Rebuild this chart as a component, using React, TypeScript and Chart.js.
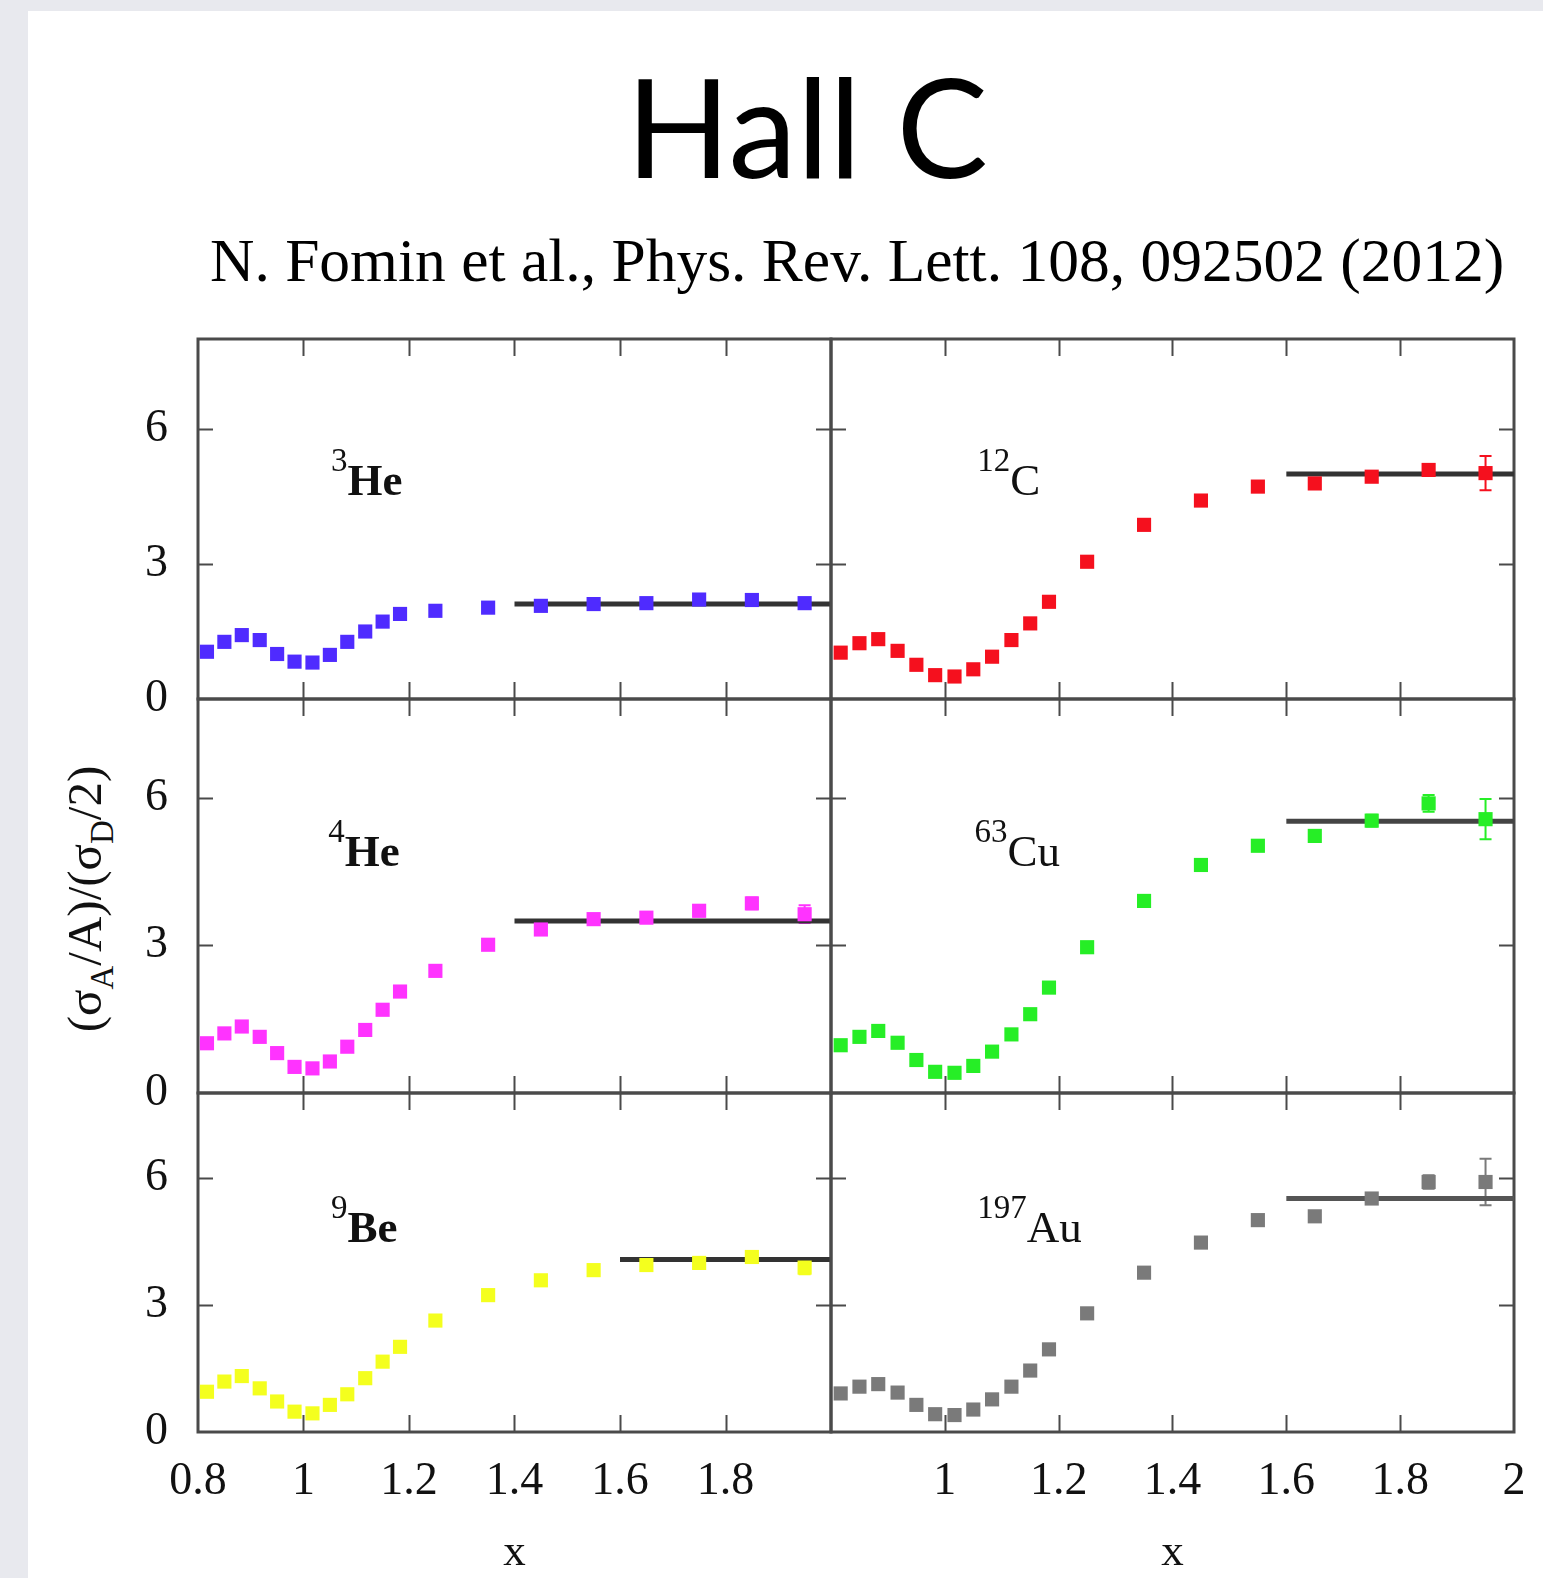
import React, { useEffect, useRef } from 'react';
import { Chart, registerables } from 'chart.js';

Chart.register(...registerables);

// ---------- data ----------
const X_VALUES = [0.817, 0.85, 0.883, 0.917, 0.95, 0.983, 1.017, 1.05, 1.083, 1.117, 1.15, 1.183, 1.25, 1.35, 1.45, 1.55, 1.65, 1.75, 1.85, 1.95];

const HE3_RATIO = [1.05, 1.27, 1.42, 1.31, 1.0, 0.83, 0.81, 0.98, 1.27, 1.5, 1.72, 1.89, 1.96, 2.03, 2.07, 2.11, 2.13, 2.21, 2.2, 2.13];
const C12_RATIO = [1.03, 1.24, 1.33, 1.07, 0.76, 0.53, 0.5, 0.66, 0.94, 1.31, 1.68, 2.16, 3.05, 3.87, 4.41, 4.72, 4.79, 4.94, 5.09, 5.02];
const HE4_RATIO = [1.01, 1.21, 1.35, 1.14, 0.81, 0.53, 0.5, 0.64, 0.94, 1.28, 1.69, 2.06, 2.48, 3.01, 3.32, 3.53, 3.56, 3.7, 3.85, 3.63];
const CU63_RATIO = [0.97, 1.14, 1.26, 1.02, 0.67, 0.43, 0.41, 0.55, 0.84, 1.19, 1.6, 2.14, 2.96, 3.9, 4.63, 5.02, 5.22, 5.53, 5.88, 5.56];
const BE9_RATIO = [0.95, 1.19, 1.32, 1.03, 0.72, 0.48, 0.44, 0.64, 0.89, 1.27, 1.66, 2.01, 2.63, 3.23, 3.58, 3.82, 3.94, 3.99, 4.13, 3.88];
const AU197_RATIO = [0.91, 1.07, 1.13, 0.93, 0.64, 0.42, 0.4, 0.53, 0.77, 1.07, 1.45, 1.95, 2.8, 3.76, 4.47, 5.0, 5.09, 5.51, 5.9, 5.9];

const HE3_ERR = [0.03, 0.03, 0.03, 0.03, 0.03, 0.03, 0.03, 0.03, 0.03, 0.03, 0.03, 0.03, 0.04, 0.04, 0.05, 0.05, 0.06, 0.06, 0.07, 0.08];
const C12_ERR = [0.03, 0.03, 0.03, 0.03, 0.03, 0.03, 0.03, 0.03, 0.03, 0.03, 0.04, 0.05, 0.06, 0.07, 0.08, 0.09, 0.1, 0.11, 0.13, 0.38];
const HE4_ERR = [0.03, 0.03, 0.03, 0.03, 0.03, 0.03, 0.03, 0.03, 0.03, 0.03, 0.04, 0.05, 0.06, 0.07, 0.08, 0.09, 0.1, 0.11, 0.12, 0.18];
const CU63_ERR = [0.03, 0.03, 0.03, 0.03, 0.03, 0.03, 0.03, 0.03, 0.03, 0.03, 0.04, 0.05, 0.06, 0.07, 0.08, 0.09, 0.1, 0.12, 0.17, 0.41];
const BE9_ERR = [0.03, 0.03, 0.03, 0.03, 0.03, 0.03, 0.03, 0.03, 0.03, 0.03, 0.04, 0.05, 0.06, 0.07, 0.08, 0.09, 0.1, 0.11, 0.12, 0.16];
const AU197_ERR = [0.03, 0.03, 0.03, 0.03, 0.03, 0.03, 0.03, 0.03, 0.03, 0.03, 0.04, 0.05, 0.06, 0.07, 0.08, 0.09, 0.1, 0.12, 0.16, 0.55];

// plateau fits a2: level and x-range
const FIT_LEVELS = [2.11, 5.0, 3.49, 5.52, 4.07, 5.51];
const FIT_START = [1.4, 1.6, 1.4, 1.6, 1.6, 1.6];
const FIT_END = 2.0;

const NUCLEUS_MASS = ['3', '12', '4', '63', '9', '197'];
const NUCLEUS_NAME = ['He', 'C', 'He', 'Cu', 'Be', 'Au'];

const X_TICKS = [0.8, 1, 1.2, 1.4, 1.6, 1.8, 2];
const Y_TICKS = [0, 3, 6];
const X_MIN = 0.8, X_MAX = 2.0, Y_MIN = 0, Y_MAX = 8;

const SERIES = [HE3_RATIO, C12_RATIO, HE4_RATIO, CU63_RATIO, BE9_RATIO, AU197_RATIO];
const ERRORS = [HE3_ERR, C12_ERR, HE4_ERR, CU63_ERR, BE9_ERR, AU197_ERR];

// ---------- layout / style ----------
const COLORS = ['#4f2bff', '#f5101e', '#ff33ff', '#26ee26', '#f4ff1e', '#7a7a7a'];
const FIT_COLORS = ['#333333', '#333333', '#333333', '#444444', '#333333', '#555555'];
const COLS = [[198, 831], [831, 1514]];
const ROWS = [[339, 699], [699, 1093], [1093, 1432]];
const LABEL_POS = [[1.052, 4.53], [1.057, 4.53], [1.047, 4.61], [1.052, 4.61], [1.052, 4.48], [1.057, 4.48]];
const FRAME_COLOR = '#4a4a4a';
const TEXT_COLOR = '#111111';
const SERIF = '"Liberation Serif", "Times New Roman", serif';

function fmt(v: number) {
  return String(Math.round(v * 10) / 10);
}

function Panel({ idx }: { idx: number }) {
  const ref = useRef<HTMLCanvasElement>(null);
  const row = Math.floor(idx / 2);
  const col = idx % 2;
  const [L, R] = COLS[col];
  const [T, B] = ROWS[row];
  const isBottom = row === 2;
  const isLeft = col === 0;
  const padL = isLeft ? 100 : 20;
  const padR = isLeft ? 20 : 1543 - R;
  const padT = 20;
  const padB = isBottom ? 1578 - B : 20;
  const cw = R - L + padL + padR;
  const ch = B - T + padT + padB;

  useEffect(() => {
    const canvas = ref.current;
    if (!canvas) return;
    const pts = X_VALUES.map((x, i) => ({ x, y: SERIES[idx][i] }));
    const fit = [
      { x: FIT_START[idx], y: FIT_LEVELS[idx] },
      { x: FIT_END, y: FIT_LEVELS[idx] },
    ];
    const zeroPad = (s: any) => {
      s.paddingLeft = 0;
      s.paddingRight = 0;
      s.paddingTop = 0;
      s.paddingBottom = 0;
    };
    const plugin = {
      id: 'gnuplotFrame' + idx,
      beforeDatasetsDraw(chart: any) {
        const { ctx, chartArea: a, scales } = chart;
        const xs = scales.x, ys = scales.y;
        ctx.save();
        // inward tick marks
        ctx.strokeStyle = FRAME_COLOR;
        ctx.lineWidth = 2;
        ctx.beginPath();
        X_TICKS.forEach((v) => {
          if (v <= X_MIN || v >= X_MAX) return;
          const px = Math.round(xs.getPixelForValue(v)) + 0.5;
          ctx.moveTo(px, a.bottom);
          ctx.lineTo(px, a.bottom - 17);
          ctx.moveTo(px, a.top);
          ctx.lineTo(px, a.top + 17);
        });
        Y_TICKS.forEach((v) => {
          if (v <= Y_MIN || v >= Y_MAX) return;
          const py = Math.round(ys.getPixelForValue(v)) + 0.5;
          ctx.moveTo(a.left, py);
          ctx.lineTo(a.left + 15, py);
          ctx.moveTo(a.right, py);
          ctx.lineTo(a.right - 15, py);
        });
        ctx.stroke();
        // border
        ctx.lineWidth = 3;
        ctx.strokeRect(a.left, a.top, a.right - a.left, a.bottom - a.top);
        // error bars
        ctx.strokeStyle = COLORS[idx];
        ctx.lineWidth = 2;
        ctx.beginPath();
        X_VALUES.forEach((xv, i) => {
          const e = ERRORS[idx][i];
          const px = xs.getPixelForValue(xv);
          const y1 = ys.getPixelForValue(SERIES[idx][i] + e);
          const y2 = ys.getPixelForValue(SERIES[idx][i] - e);
          ctx.moveTo(px, y1);
          ctx.lineTo(px, y2);
          ctx.moveTo(px - 6, y1);
          ctx.lineTo(px + 6, y1);
          ctx.moveTo(px - 6, y2);
          ctx.lineTo(px + 6, y2);
        });
        ctx.stroke();
        // nucleus label
        const lx = xs.getPixelForValue(LABEL_POS[idx][0]);
        const ly = ys.getPixelForValue(LABEL_POS[idx][1]);
        ctx.fillStyle = TEXT_COLOR;
        ctx.textAlign = 'left';
        ctx.textBaseline = 'alphabetic';
        ctx.font = `33px ${SERIF}`;
        ctx.fillText(NUCLEUS_MASS[idx], lx, ly - 24);
        const w = ctx.measureText(NUCLEUS_MASS[idx]).width;
        ctx.font = `${isLeft ? 'bold ' : ''}45px ${SERIF}`;
        ctx.fillText(NUCLEUS_NAME[idx], lx + w, ly);
        // x axis title
        if (isBottom) {
          ctx.font = `45px ${SERIF}`;
          ctx.textAlign = 'center';
          ctx.fillText('x', (a.left + a.right) / 2, a.bottom + 133);
        }
        ctx.restore();
      },
    };

    const chart = new Chart(canvas, {
      type: 'scatter',
      data: {
        datasets: [
          {
            label: NUCLEUS_MASS[idx] + NUCLEUS_NAME[idx],
            data: pts,
            pointStyle: 'rect',
            pointRadius: 10,
            pointBackgroundColor: COLORS[idx],
            pointBorderColor: COLORS[idx],
            pointBorderWidth: 0,
            showLine: false,
          },
          {
            label: 'a2 fit',
            data: fit,
            showLine: true,
            borderColor: FIT_COLORS[idx],
            borderWidth: 5,
            pointRadius: 0,
          } as any,
        ],
      },
      options: {
        responsive: false,
        maintainAspectRatio: false,
        animation: false,
        events: [],
        devicePixelRatio: 1,
        layout: { padding: { left: 0, right: padR, top: padT, bottom: 0 } },
        plugins: { legend: { display: false }, tooltip: { enabled: false } },
        scales: {
          x: {
            type: 'linear',
            position: 'bottom',
            min: X_MIN,
            max: X_MAX,
            grid: { display: false, drawTicks: false },
            border: { display: false },
            afterBuildTicks: (s: any) => {
              s.ticks = X_TICKS.map((v) => ({ value: v }));
            },
            afterFit: (s: any) => {
              s.height = padB;
              zeroPad(s);
            },
            ticks: {
              display: isBottom,
              autoSkip: false,
              maxRotation: 0,
              minRotation: 0,
              padding: 22,
              color: TEXT_COLOR,
              font: { family: SERIF, size: 46 },
              callback: (v: any) => {
                const n = Number(v);
                if (isLeft && n >= X_MAX - 1e-9) return '';
                if (!isLeft && n <= X_MIN + 1e-9) return '';
                return fmt(n);
              },
            },
          },
          y: {
            type: 'linear',
            position: 'left',
            min: Y_MIN,
            max: Y_MAX,
            grid: { display: false, drawTicks: false },
            border: { display: false },
            afterBuildTicks: (s: any) => {
              s.ticks = Y_TICKS.map((v) => ({ value: v }));
            },
            afterFit: (s: any) => {
              s.width = padL;
              zeroPad(s);
            },
            ticks: {
              display: isLeft,
              padding: 30,
              color: TEXT_COLOR,
              font: { family: SERIF, size: 46 },
              callback: (v: any) => fmt(Number(v)),
            },
          },
        },
      },
      plugins: [plugin],
    } as any);
    return () => chart.destroy();
  }, [idx]);

  return (
    <canvas
      ref={ref}
      width={cw}
      height={ch}
      style={{ position: 'absolute', left: L - padL, top: T - padT, width: cw, height: ch }}
    />
  );
}

export default function App() {
  return (
    <div
      style={{
        position: 'absolute',
        left: 0,
        top: 0,
        width: 1543,
        height: 1578,
        overflow: 'hidden',
        background: '#e8e9ee',
      }}
    >
      <div style={{ position: 'absolute', left: 28, top: 11, right: 0, bottom: 0, background: '#ffffff' }} />
      <div
        style={{
          position: 'absolute',
          left: 407,
          width: 800,
          top: 57,
          textAlign: 'center',
          fontFamily: 'Lato, "Open Sans", sans-serif',
          fontSize: 137,
          lineHeight: 1,
          color: '#000',
          whiteSpace: 'nowrap',
        }}
      >
        Hall C
      </div>
      <div
        style={{
          position: 'absolute',
          left: 210,
          top: 230,
          fontFamily: SERIF,
          fontSize: 61.5,
          lineHeight: 1,
          color: '#000',
          whiteSpace: 'nowrap',
        }}
      >
        N. Fomin et al., Phys. Rev. Lett. 108, 092502 (2012)
      </div>
      <div
        style={{
          position: 'absolute',
          left: 84,
          top: 899,
          transform: 'translate(-50%, -50%) rotate(-90deg)',
          fontFamily: SERIF,
          fontSize: 49,
          lineHeight: 1,
          color: TEXT_COLOR,
          whiteSpace: 'nowrap',
        }}
      >
        (σ<span style={{ fontSize: 33, position: 'relative', top: 12 }}>A</span>/A)/(σ
        <span style={{ fontSize: 33, position: 'relative', top: 12 }}>D</span>/2)
      </div>
      {[0, 1, 2, 3, 4, 5].map((i) => (
        <Panel key={i} idx={i} />
      ))}
    </div>
  );
}
